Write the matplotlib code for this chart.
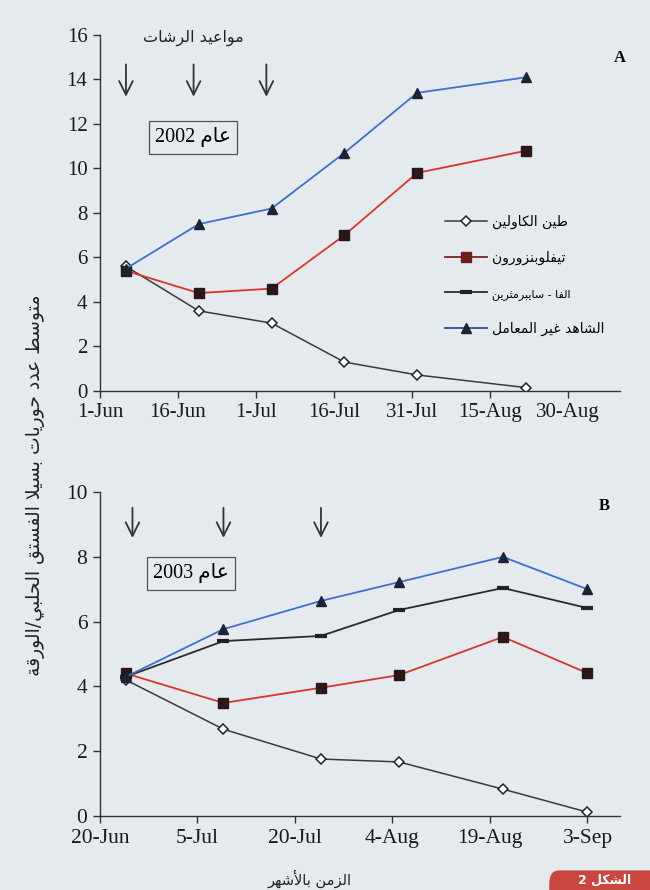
import re
import matplotlib
matplotlib.use('Agg')
import matplotlib.pyplot as plt
import pandas as pd
from matplotlib.lines import Line2D
from matplotlib.patches import FancyBboxPatch


def shape_arabic(text):
    """Turn logical-order Arabic into joined presentation forms in visual order."""
    base = 0xFE80
    forms = {}
    for ch in 'ءآأؤإئابةتثجحخدذرزسشصضطظعغفقكلمنهوىي':
        n = 1 if ch == 'ء' else 2 if ch in 'آأؤإادذرزةوى' else 4
        forms[ch] = [chr(base + i) for i in range(n)]
        base += n
    lam_alef = {'آ': 0xFEF5, 'أ': 0xFEF7, 'إ': 0xFEF9, 'ا': 0xFEFB}

    def joins_next(c):
        return c in forms and len(forms[c]) == 4

    out = []
    i = 0
    while i < len(text):
        c = text[i]
        if c not in forms:
            out.append(c)
            i += 1
            continue
        prev = text[i - 1] if i > 0 else ''
        link_prev = joins_next(prev) and len(forms[c]) > 1
        if c == 'ل' and i + 1 < len(text) and text[i + 1] in lam_alef:
            out.append(chr(lam_alef[text[i + 1]] + int(link_prev)))
            i += 2
            continue
        nxt = text[i + 1] if i + 1 < len(text) else ''
        link_next = joins_next(c) and nxt in forms and len(forms[nxt]) > 1
        out.append(forms[c][int(link_prev) + 2 * int(link_next)])
        i += 1
    visual = ''.join(reversed(out))
    return re.sub(r'[0-9A-Za-z.]+', lambda m: m.group(0)[::-1], visual)


# --- 2002 season ---
dates_2002 = ['2002-06-06', '2002-06-20', '2002-07-04', '2002-07-18', '2002-08-01', '2002-08-22']
kaolin_2002 = [5.6, 3.6, 3.05, 1.3, 0.72, 0.15]
teflu_2002 = [5.4, 4.4, 4.6, 7.0, 9.8, 10.8]
control_2002 = [5.5, 7.5, 8.2, 10.7, 13.4, 14.1]
sprays_2002 = ['2002-06-06', '2002-06-19', '2002-07-03']
ticks_2002 = ['1-Jun', '16-Jun', '1-Jul', '16-Jul', '31-Jul', '15-Aug', '30-Aug']

# --- 2003 season ---
dates_2003 = ['2003-06-24', '2003-07-09', '2003-07-24', '2003-08-05', '2003-08-21', '2003-09-03']
kaolin_2003 = [4.2, 2.68, 1.76, 1.67, 0.83, 0.12]
teflu_2003 = [4.4, 3.49, 3.96, 4.35, 5.53, 4.41]
alpha_2003 = [4.3, 5.4, 5.56, 6.36, 7.04, 6.42]
control_2003 = [4.3, 5.77, 6.64, 7.22, 8.0, 7.0]
sprays_2003 = ['2003-06-25', '2003-07-09', '2003-07-24']
ticks_2003 = ['20-Jun', '5-Jul', '20-Jul', '4-Aug', '19-Aug', '3-Sep']

labels = ['طين الكاولين', 'تيفلوبنزورون', 'الفا - سايبرمثرين', 'الشاهد غير المعامل']

BG = '#e5eaee'
AR = ['DejaVu Sans']
SERIF = ['Liberation Serif', 'DejaVu Sans']

styles = {
    'kaolin': dict(color='#3a3a3a', lw=1.1, marker='D', ms=5.5, mfc='white', mec='#222', mew=1.1),
    'teflu': dict(color='#d8352a', lw=1.3, marker='s', ms=6.5, mfc='#2a1818', mec='#2a1818'),
    'alpha': dict(color='#2b2b2b', lw=1.3, marker='_', ms=8, mew=3, mec='#222'),
    'control': dict(color='#3f6fcf', lw=1.3, marker='^', ms=7.5, mfc='#1c2336', mec='#1c2336'),
}

fig = plt.figure(figsize=(6.5, 8.9), dpi=100, facecolor=BG)
ax1 = fig.add_axes([0.1538, 0.5607, 0.8, 0.4])
ax2 = fig.add_axes([0.1538, 0.0831, 0.8, 0.364])


def style_axis(ax, tick_labels, year, start, span, ymax, fs):
    ax.set_facecolor(BG)
    for side in ('top', 'right'):
        ax.spines[side].set_visible(False)
    for side in ('left', 'bottom'):
        ax.spines[side].set_color('#333')
        ax.spines[side].set_linewidth(1.0)
    t0 = pd.Timestamp(start)
    ax.set_xlim(t0, t0 + pd.Timedelta(days=span))
    ax.set_ylim(0, ymax)
    ax.set_yticks(range(0, ymax + 1, 2))
    pos = pd.to_datetime([f'{t}-{year}' for t in tick_labels], format='%d-%b-%Y')
    ax.set_xticks(pos)
    ax.set_xticklabels(tick_labels)
    ax.tick_params(direction='out', length=5, width=1, color='#333',
                   labelsize=fs, labelcolor='#1a1a1a', pad=4)
    for lab in ax.get_xticklabels() + ax.get_yticklabels():
        lab.set_family(SERIF)


def spray_arrows(ax, when, y_top, y_bot):
    for d in pd.to_datetime(when):
        ax.annotate('', xy=(d, y_bot), xytext=(d, y_top),
                    arrowprops=dict(arrowstyle='->,head_length=0.7,head_width=0.35',
                                    color='#333', lw=1.3, mutation_scale=14))


# top panel: 2002
x02 = pd.to_datetime(dates_2002)
ax1.plot(x02, kaolin_2002, **styles['kaolin'])
ax1.plot(x02, teflu_2002, **styles['teflu'])
ax1.plot(x02, control_2002, **styles['control'])
style_axis(ax1, ticks_2002, 2002, '2002-06-01', 100, 16, 15)
spray_arrows(ax1, sprays_2002, 14.8, 13.1)
ax1.text(0.179, 0.713, shape_arabic('عام 2002'), transform=ax1.transAxes,
         ha='center', va='center', fontsize=14.5, family=SERIF,
         bbox=dict(boxstyle='square,pad=0.32', fc='none', ec='#555', lw=0.9))
ax1.text(1.0, 0.935, 'A', transform=ax1.transAxes, ha='center', va='center',
         fontsize=12, fontweight='bold', family=SERIF)

# bottom panel: 2003
x03 = pd.to_datetime(dates_2003)
ax2.plot(x03, kaolin_2003, **styles['kaolin'])
ax2.plot(x03, alpha_2003, **styles['alpha'])
ax2.plot(x03, teflu_2003, **styles['teflu'])
ax2.plot(x03, control_2003, **styles['control'])
style_axis(ax2, ticks_2003, 2003, '2003-06-20', 80, 10, 15.5)
spray_arrows(ax2, sprays_2003, 9.6, 8.5)
ax2.text(0.175, 0.75, shape_arabic('عام 2003'), transform=ax2.transAxes,
         ha='center', va='center', fontsize=14.5, family=SERIF,
         bbox=dict(boxstyle='square,pad=0.32', fc='none', ec='#555', lw=0.9))
ax2.text(0.97, 0.957, 'B', transform=ax2.transAxes, ha='center', va='center',
         fontsize=12, fontweight='bold', family=SERIF)

# legend sits in the top panel and lists all four treatments
handles = [Line2D([], [], **styles[k]) for k in ('kaolin', 'teflu', 'alpha', 'control')]
handles[1].set_color('#7a2424')
handles[1].set_markerfacecolor('#6b2020')
handles[1].set_markeredgecolor('#6b2020')
handles[3].set_color('#2f4f8a')
leg = ax1.legend(handles, [shape_arabic(s) for s in labels], loc='upper left',
                 bbox_to_anchor=(0.64, 0.53), frameon=False, handlelength=3.0,
                 labelspacing=1.58, handletextpad=0.4, prop=dict(family=AR, size=10))
leg.get_texts()[2].set_fontsize(8)

fig.text(0.298, 0.958, shape_arabic('مواعيد الرشات'), ha='center', va='center',
         fontsize=11.5, family=AR, color='#222')
fig.text(0.054, 0.455, shape_arabic('متوسط عدد حوريات بسيلا الفستق الحلبي/الورقة'),
         rotation=90, ha='center', va='center', fontsize=13.5, family=AR, color='#222')
fig.text(0.477, 0.012, shape_arabic('الزمن بالأشهر'), ha='center', va='center',
         fontsize=10.5, family=AR, color='#222')

# figure tag in the corner
fig.add_artist(FancyBboxPatch((0.845, -0.03), 0.2, 0.052, transform=fig.transFigure,
                              boxstyle='round,pad=0,rounding_size=0.015',
                              fc='#c9473f', ec='none', clip_on=False))
fig.text(0.93, 0.011, shape_arabic('الشكل 2'), ha='center', va='center',
         fontsize=9, fontweight='bold', family=AR, color='white')

fig.savefig('out.png', dpi=100, facecolor=BG)
